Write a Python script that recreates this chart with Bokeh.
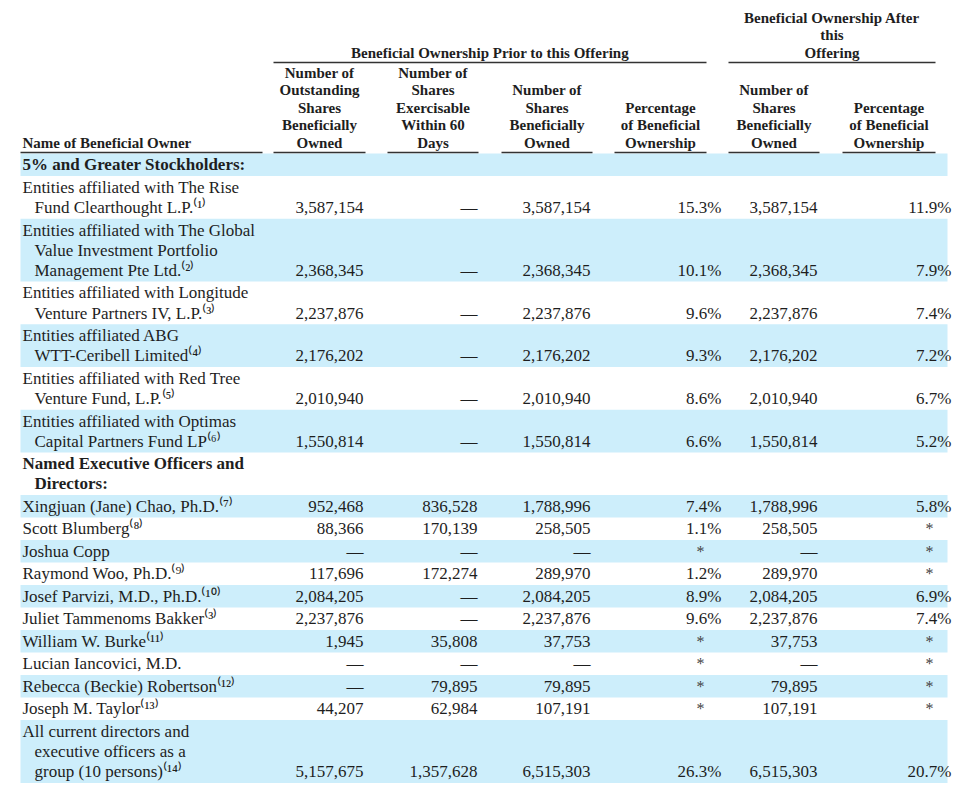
from bokeh.plotting import figure
from bokeh.models import Range1d, ColumnDataSource
from bokeh.embed import file_html
from bokeh.resources import INLINE
from bokeh.core.properties import value

FONT = "Liberation Serif"
TXT = "#1e1e1e"
BAND = "#CDEEFB"

# ---------------- data ----------------
group_prior = ["Beneficial Ownership Prior to this Offering"]
group_after = ["Beneficial Ownership After", "this", "Offering"]
name_header = "Name of Beneficial Owner"
col_headers = [
    ["Number of", "Outstanding", "Shares", "Beneficially", "Owned"],
    ["Number of", "Shares", "Exercisable", "Within 60", "Days"],
    ["Number of", "Shares", "Beneficially", "Owned"],
    ["Percentage", "of Beneficial", "Ownership"],
    ["Number of", "Shares", "Beneficially", "Owned"],
    ["Percentage", "of Beneficial", "Ownership"],
]

section_major = ["5% and Greater Stockholders:"]
section_exec = ["Named Executive Officers and", "Directors:"]

holders_major = [
    ["Entities affiliated with The Rise", "Fund Clearthought L.P.⁽¹⁾"],
    ["Entities affiliated with The Global", "Value Investment Portfolio", "Management Pte Ltd.⁽²⁾"],
    ["Entities affiliated with Longitude", "Venture Partners IV, L.P.⁽³⁾"],
    ["Entities affiliated ABG", "WTT-Ceribell Limited⁽⁴⁾"],
    ["Entities affiliated with Red Tree", "Venture Fund, L.P.⁽⁵⁾"],
    ["Entities affiliated with Optimas", "Capital Partners Fund LP⁽⁶⁾"],
]
holders_exec = [
    ["Xingjuan (Jane) Chao, Ph.D.⁽⁷⁾"],
    ["Scott Blumberg⁽⁸⁾"],
    ["Joshua Copp"],
    ["Raymond Woo, Ph.D.⁽⁹⁾"],
    ["Josef Parvizi, M.D., Ph.D.⁽¹⁰⁾"],
    ["Juliet Tammenoms Bakker⁽³⁾"],
    ["William W. Burke⁽¹¹⁾"],
    ["Lucian Iancovici, M.D."],
    ["Rebecca (Beckie) Robertson⁽¹²⁾"],
    ["Joseph M. Taylor⁽¹³⁾"],
    ["All current directors and", "executive officers as a", "group (10 persons)⁽¹⁴⁾"],
]

# 0 = "—" (none); None in percentages = "*" (less than 1%)
outstanding_major = [3587154, 2368345, 2237876, 2176202, 2010940, 1550814]
exercisable_major = [0, 0, 0, 0, 0, 0]
shares_prior_major = [3587154, 2368345, 2237876, 2176202, 2010940, 1550814]
pct_prior_major = [15.3, 10.1, 9.6, 9.3, 8.6, 6.6]
shares_after_major = [3587154, 2368345, 2237876, 2176202, 2010940, 1550814]
pct_after_major = [11.9, 7.9, 7.4, 7.2, 6.7, 5.2]

outstanding_exec = [952468, 88366, 0, 117696, 2084205, 2237876, 1945, 0, 0, 44207, 5157675]
exercisable_exec = [836528, 170139, 0, 172274, 0, 0, 35808, 0, 79895, 62984, 1357628]
shares_prior_exec = [1788996, 258505, 0, 289970, 2084205, 2237876, 37753, 0, 79895, 107191, 6515303]
pct_prior_exec = [7.4, 1.1, None, 1.2, 8.9, 9.6, None, None, None, None, 26.3]
shares_after_exec = [1788996, 258505, 0, 289970, 2084205, 2237876, 37753, 0, 79895, 107191, 6515303]
pct_after_exec = [5.8, None, None, None, 6.9, 7.4, None, None, None, None, 20.7]

# ---------------- layout constants ----------------
X_LEFT, X_RIGHT = 20, 947
NAME_X, INDENT_X = 22, 34
col_spans = [(273, 365), (387, 478), (501, 592), (614, 706), (728, 819), (842, 935)]
num_right = [363, 477, 590, 721, 817, 951]
star_x = {3: 700, 5: 929}
LINE_H = 20.2
ROW_PAD = 2.3
BODY_TOP = 153


def fmt_num(v):
    return "—" if v == 0 else f"{v:,}"


def fmt_pct(v):
    return "*" if v is None else f"{v:.1f}%"


rows = [("section", section_major, None)]
for i, lines in enumerate(holders_major):
    rows.append(("data", lines, [outstanding_major[i], exercisable_major[i], shares_prior_major[i],
                                 pct_prior_major[i], shares_after_major[i], pct_after_major[i]]))
rows.append(("section", section_exec, None))
for i, lines in enumerate(holders_exec):
    rows.append(("data", lines, [outstanding_exec[i], exercisable_exec[i], shares_prior_exec[i],
                                 pct_prior_exec[i], shares_after_exec[i], pct_after_exec[i]]))

p = figure(width=952, height=791, x_range=Range1d(0, 952), y_range=Range1d(791, 0),
           output_backend="svg", toolbar_location=None, min_border=0,
           x_axis_type=None, y_axis_type=None)
p.grid.visible = False
p.outline_line_color = None

bands = dict(left=[], right=[], top=[], bottom=[])
body = dict(x=[], y=[], t=[])
bold = dict(x=[], y=[], t=[])
nums = dict(x=[], y=[], t=[])
stars = dict(x=[], y=[], t=[])

y = BODY_TOP
for i, (kind, lines, vals) in enumerate(rows):
    n = len(lines)
    h = LINE_H * n + ROW_PAD
    if i % 2 == 0:
        bands["left"].append(X_LEFT); bands["right"].append(X_RIGHT)
        bands["top"].append(y); bands["bottom"].append(y + h)
    target = bold if kind == "section" else body
    for k, ln in enumerate(lines):
        target["x"].append(NAME_X if k == 0 else INDENT_X)
        target["y"].append(y + 11.3 + LINE_H * k)
        target["t"].append(ln)
    if vals is not None:
        yl = y + 11.3 + LINE_H * (n - 1)
        for c, v in enumerate(vals):
            if c in (3, 5):
                s = fmt_pct(v)
                if s == "*":
                    stars["x"].append(star_x[c]); stars["y"].append(yl); stars["t"].append(s)
                    continue
            else:
                s = fmt_num(v)
            nums["x"].append(num_right[c]); nums["y"].append(yl); nums["t"].append(s)
    y += h

p.quad(source=ColumnDataSource(bands), left="left", right="right", top="top", bottom="bottom",
       fill_color=BAND, line_color=None)

p.text(source=ColumnDataSource(body), x="x", y="y", text="t", text_font=value(FONT),
       text_font_size="17px", text_color=TXT, text_align="left", text_baseline="middle")
p.text(source=ColumnDataSource(bold), x="x", y="y", text="t", text_font=value(FONT),
       text_font_size="17px", text_font_style="bold", text_color=TXT, text_align="left",
       text_baseline="middle")
p.text(source=ColumnDataSource(nums), x="x", y="y", text="t", text_font=value(FONT),
       text_font_size="17px", text_color=TXT, text_align="right", text_baseline="middle")
p.text(source=ColumnDataSource(stars), x="x", y="y", text="t", text_font=value(FONT),
       text_font_size="16px", text_color="#444444", text_align="center", text_baseline="middle")

# ---- header ----
hdr = dict(x=[], y=[], t=[])
HDR_LAST, HDR_STEP = 142.5, 17.6
for c, lines in enumerate(col_headers):
    cx = (col_spans[c][0] + col_spans[c][1]) / 2
    for k, ln in enumerate(lines):
        hdr["x"].append(cx); hdr["y"].append(HDR_LAST - HDR_STEP * (len(lines) - 1 - k)); hdr["t"].append(ln)
gp_cx = (col_spans[0][0] + col_spans[3][1]) / 2
for k, ln in enumerate(group_prior):
    hdr["x"].append(gp_cx); hdr["y"].append(52.5 - HDR_STEP * (len(group_prior) - 1 - k)); hdr["t"].append(ln)
ga_cx = (col_spans[4][0] + col_spans[5][1]) / 2
for k, ln in enumerate(group_after):
    hdr["x"].append(ga_cx); hdr["y"].append(52.5 - HDR_STEP * (len(group_after) - 1 - k)); hdr["t"].append(ln)

p.text(source=ColumnDataSource(hdr), x="x", y="y", text="t", text_font=value(FONT),
       text_font_size="15px", text_font_style="bold", text_color=TXT, text_align="center",
       text_baseline="middle")
p.text(x=[NAME_X], y=[HDR_LAST], text=[name_header], text_font=value(FONT),
       text_font_size="15px", text_font_style="bold", text_color=TXT, text_align="left",
       text_baseline="middle")

# underlines
ul_x0 = [X_LEFT] + [s[0] for s in col_spans] + [col_spans[0][0], col_spans[4][0]]
ul_x1 = [262] + [s[1] for s in col_spans] + [col_spans[3][1], col_spans[5][1]]
ul_y = [152] * 7 + [62, 62]
p.segment(x0=ul_x0, x1=ul_x1, y0=ul_y, y1=ul_y, line_color="#333333", line_width=1.3)

open("out.html", "w").write(file_html(p, INLINE))
